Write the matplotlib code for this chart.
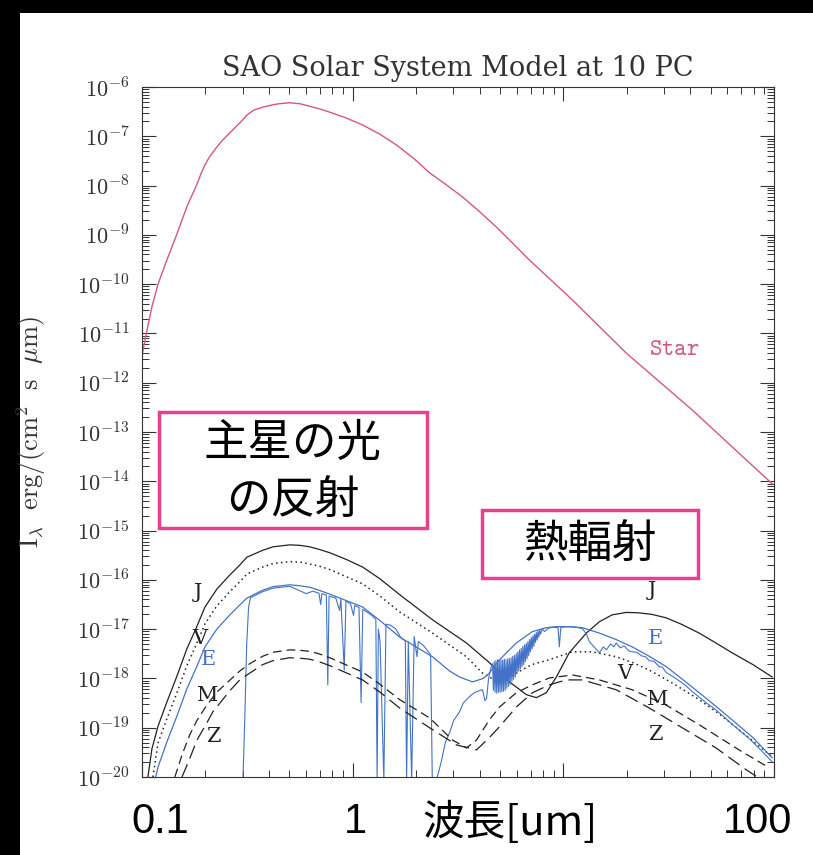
import numpy as np
import matplotlib.pyplot as plt
from matplotlib.patches import Rectangle
from matplotlib.ticker import LogLocator, NullFormatter, FuncFormatter

plt.rcParams['mathtext.fontset'] = 'cm'

# log10 wavelength [um] and log10 intensity
star_loglam = [-1.000, -0.976, -0.953, -0.924, -0.882, -0.834, -0.787, -0.739, -0.720, -0.701,
               -0.680, -0.645, -0.620, -0.583, -0.560, -0.536, -0.502, -0.470, -0.427, -0.379,
               -0.350, -0.299, -0.250, -0.204, -0.160, -0.109, -0.030, 0.047, 0.130, 0.209,
               0.290, 0.365, 0.440, 0.521, 0.600, 0.682, 0.760, 0.839, 1.043, 1.299,
               1.611, 1.991]
star_logI = [-11.45, -10.93, -10.46, -10.00, -9.51, -8.98, -8.43, -7.97, -7.76, -7.58,
             -7.42, -7.22, -7.09, -6.93, -6.83, -6.73, -6.57, -6.47, -6.41, -6.36,
             -6.34, -6.32, -6.34, -6.39, -6.44, -6.51, -6.63, -6.77, -6.96, -7.18,
             -7.45, -7.74, -7.97, -8.23, -8.52, -8.84, -9.17, -9.51, -10.32, -11.40,
             -12.55, -14.05]

j_loglam = [-0.972, -0.953, -0.924, -0.882, -0.834, -0.787, -0.739, -0.701, -0.645, -0.583,
            -0.536, -0.502, -0.427, -0.379, -0.299, -0.250, -0.204, -0.160, -0.109, -0.028,
            0.047, 0.130, 0.223, 0.379, 0.540, 0.649, 0.744, 0.825, 0.872, 0.919,
            0.967, 1.028, 1.109, 1.171, 1.232, 1.300, 1.360, 1.420, 1.488, 1.560,
            1.645, 1.720, 1.801, 1.900, 1.991]
j_logI = [-20.0, -19.43, -18.97, -18.48, -17.95, -17.40, -16.94, -16.55, -16.19, -15.90,
          -15.70, -15.54, -15.40, -15.33, -15.29, -15.30, -15.33, -15.38, -15.45, -15.59,
          -15.74, -15.98, -16.30, -16.81, -17.28, -17.68, -18.07, -18.33, -18.39, -18.29,
          -17.97, -17.48, -17.08, -16.85, -16.71, -16.66, -16.67, -16.70, -16.77, -16.90,
          -17.08, -17.27, -17.48, -17.72, -17.97]

v_loglam = [-0.948, -0.924, -0.882, -0.834, -0.787, -0.739, -0.701, -0.645, -0.583, -0.536,
            -0.502, -0.427, -0.379, -0.299, -0.250, -0.204, -0.160, -0.109, 0.047, 0.130,
            0.223, 0.379, 0.540, 0.616, 0.697, 0.777, 0.850, 0.934, 1.043, 1.137,
            1.251, 1.330, 1.408, 1.520, 1.645, 1.740, 1.834, 1.991]
v_logI = [-20.0, -19.31, -18.82, -18.29, -17.74, -17.28, -16.89, -16.53, -16.24, -16.04,
          -15.88, -15.74, -15.67, -15.63, -15.64, -15.68, -15.72, -15.79, -16.08, -16.33,
          -16.65, -17.08, -17.56, -17.89, -18.09, -17.89, -17.72, -17.62, -17.46, -17.46,
          -17.56, -17.68, -17.83, -18.10, -18.43, -18.72, -19.04, -19.59]

e_env_loglam = [-0.935, -0.924, -0.882, -0.834, -0.787, -0.739, -0.701, -0.645, -0.583, -0.536,
                -0.502, -0.427, -0.379, -0.299, -0.250, -0.204, -0.160, -0.109, 0.047, 0.128,
                0.223, 0.379, 0.460, 0.507, 0.569, 0.620, 0.649, 0.697, 0.777, 0.853,
                0.920, 0.967, 1.030, 1.090, 1.171, 1.250, 1.327, 1.408, 1.488, 1.560,
                1.645, 1.720, 1.801, 1.900, 1.991]
e_env_logI = [-20.0, -19.80, -19.29, -18.76, -18.21, -17.75, -17.36, -17.00, -16.71, -16.51,
              -16.37, -16.21, -16.14, -16.10, -16.12, -16.15, -16.21, -16.29, -16.55, -16.82,
              -17.16, -17.56, -17.85, -17.97, -18.07, -18.00, -17.89, -17.62, -17.28, -17.05,
              -16.97, -16.95, -16.95, -16.97, -17.08, -17.21, -17.36, -17.55, -17.76, -18.00,
              -18.29, -18.55, -18.84, -19.20, -19.61]

# Earth spectrum with its absorption bands, as (log10 lam, log10 I) pairs
e_spec = [(-0.521, -20.06), (-0.512, -18.80), (-0.503, -17.30), (-0.494, -16.55), (-0.485, -16.36),
          (-0.427, -16.24), (-0.379, -16.17), (-0.299, -16.13), (-0.251, -16.22), (-0.220, -16.28),
          (-0.190, -16.23), (-0.160, -16.27), (-0.152, -16.50), (-0.146, -16.28), (-0.125, -16.31),
          (-0.118, -18.13), (-0.112, -16.33), (-0.080, -16.37), (-0.062, -16.62), (-0.056, -16.39),
          (-0.040, -17.83), (-0.032, -16.43), (-0.010, -16.49), (0.004, -16.72), (0.010, -16.52),
          (0.030, -16.56), (0.040, -18.49), (0.048, -16.60), (0.070, -16.66), (0.090, -16.72),
          (0.110, -16.80), (0.116, -20.06), (0.122, -17.00), (0.130, -17.25), (0.148, -20.06),
          (0.158, -16.90), (0.180, -16.92), (0.205, -17.00), (0.230, -17.18), (0.250, -17.24),
          (0.256, -20.06), (0.264, -17.25), (0.280, -20.06), (0.292, -17.15), (0.305, -17.56),
          (0.312, -17.25), (0.340, -17.35), (0.370, -17.52), (0.378, -20.06), (0.398, -20.06),
          (0.420, -19.70), (0.440, -19.30), (0.460, -19.10), (0.480, -18.85), (0.507, -18.68),
          (0.525, -18.50), (0.540, -18.43), (0.560, -18.35), (0.578, -18.29), (0.600, -18.25),
          (0.616, -18.23), (0.628, -18.45), (0.636, -18.40), (0.645, -18.00), (0.658, -17.76),
          (0.664, -17.70), (0.668, -18.24), (0.672, -17.66), (0.676, -18.28), (0.680, -17.64),
          (0.684, -18.30), (0.688, -17.62), (0.692, -18.28), (0.696, -17.64), (0.700, -18.28),
          (0.704, -17.62), (0.708, -18.27), (0.712, -17.63), (0.716, -18.26), (0.720, -17.61),
          (0.724, -18.24), (0.728, -17.62), (0.732, -18.20), (0.736, -17.60), (0.740, -18.16),
          (0.744, -17.60), (0.748, -18.12), (0.752, -17.58), (0.756, -18.06), (0.760, -17.55),
          (0.764, -18.02), (0.768, -17.53), (0.772, -17.97), (0.776, -17.50), (0.780, -17.90),
          (0.784, -17.46), (0.788, -17.85), (0.792, -17.42), (0.796, -17.80), (0.800, -17.39),
          (0.804, -17.76), (0.808, -17.35), (0.812, -17.72), (0.816, -17.32), (0.820, -17.66),
          (0.824, -17.29), (0.828, -17.60), (0.832, -17.25), (0.836, -17.54), (0.840, -17.21),
          (0.844, -17.46), (0.848, -17.17), (0.852, -17.40), (0.856, -17.13), (0.860, -17.35),
          (0.864, -17.10), (0.868, -17.27), (0.872, -17.07), (0.876, -17.22), (0.880, -17.04),
          (0.884, -17.16), (0.888, -17.02), (0.892, -17.10), (0.900, -16.99), (0.910, -17.05),
          (0.930, -16.98), (0.950, -16.96), (0.975, -16.97), (0.981, -17.36), (0.988, -16.97),
          (1.010, -16.95), (1.060, -16.96), (1.090, -16.99), (1.110, -17.10), (1.123, -17.25),
          (1.150, -17.38), (1.171, -17.48), (1.190, -17.36), (1.204, -17.42), (1.225, -17.30),
          (1.240, -17.36), (1.251, -17.28), (1.270, -17.38), (1.289, -17.34), (1.310, -17.44),
          (1.327, -17.46), (1.350, -17.47), (1.370, -17.54), (1.390, -17.56), (1.408, -17.64),
          (1.430, -17.65), (1.455, -17.76), (1.470, -17.77), (1.488, -17.88), (1.520, -17.96),
          (1.550, -18.05), (1.580, -18.14), (1.610, -18.26), (1.645, -18.38), (1.680, -18.50),
          (1.716, -18.61), (1.760, -18.77), (1.801, -18.93), (1.840, -19.07), (1.882, -19.22),
          (1.930, -19.42), (1.991, -19.69)]

m_loglam = [-0.844, -0.810, -0.773, -0.739, -0.692, -0.645, -0.597, -0.536, -0.488, -0.427,
            -0.379, -0.299, -0.250, -0.204, -0.160, -0.109, 0.047, 0.130, 0.223, 0.365,
            0.474, 0.540, 0.588, 0.649, 0.697, 0.777, 0.853, 0.934, 1.043, 1.171,
            1.327, 1.488, 1.645, 1.834, 1.976]
m_logI = [-20.0, -19.55, -19.14, -18.85, -18.54, -18.28, -18.09, -17.85, -17.70, -17.55,
          -17.47, -17.42, -17.43, -17.45, -17.50, -17.58, -17.87, -18.12, -18.43, -18.80,
          -19.25, -19.41, -19.25, -18.84, -18.58, -18.29, -18.13, -17.99, -17.93, -18.03,
          -18.23, -18.54, -18.94, -19.45, -19.81]

z_loglam = [-0.810, -0.773, -0.739, -0.692, -0.664, -0.583, -0.536, -0.488, -0.427, -0.379,
            -0.299, -0.250, -0.204, -0.160, -0.109, 0.047, 0.130, 0.223, 0.365, 0.493,
            0.588, 0.649, 0.697, 0.777, 0.853, 0.934, 1.014, 1.090, 1.251, 1.408,
            1.564, 1.725, 1.867, 1.938]
z_logI = [-20.0, -19.62, -19.25, -18.90, -18.68, -18.25, -18.03, -17.89, -17.72, -17.64,
          -17.58, -17.59, -17.61, -17.66, -17.74, -18.03, -18.28, -18.60, -19.00, -19.35,
          -19.45, -19.20, -18.98, -18.58, -18.29, -18.13, -18.03, -18.03, -18.23, -18.60,
          -19.00, -19.41, -19.85, -20.05]

pink = '#d6587a'
blue = '#4373c6'
box_pink = '#e8408c'
ink = '#222222'

fig = plt.figure(figsize=(8.13, 8.55), dpi=100, facecolor='black')
# white sheet of the scanned figure
fig.patches.append(Rectangle((20 / 813, 0), 1, 1 - 13 / 855, transform=fig.transFigure,
                             facecolor='white', edgecolor='none', zorder=-10))

ax = fig.add_axes([142 / 813, 1 - 777 / 855, 632 / 813, 690 / 855])
ax.set_facecolor('white')


def p(loglam, logI):
    return 10 ** np.array(loglam), 10 ** np.array(logI)


e_spec_loglam, e_spec_logI = zip(*e_spec)

ax.plot(*p(star_loglam, star_logI), color=pink, lw=1.0)
ax.plot(*p(j_loglam, j_logI), color=ink, lw=0.9)
ax.plot(*p(v_loglam, v_logI), color=ink, lw=1.1, linestyle=(0, (1, 2.2)))
ax.plot(*p(e_env_loglam, e_env_logI), color=blue, lw=0.9)
ax.plot(*p(e_spec_loglam, e_spec_logI), color=blue, lw=0.8)
ax.plot(*p(m_loglam, m_logI), color=ink, lw=0.9, linestyle=(0, (7, 4)))
ax.plot(*p(z_loglam, z_logI), color=ink, lw=0.9, linestyle=(0, (11, 5)))

ax.set_xscale('log')
ax.set_yscale('log')
ax.set_xlim(0.1, 100)
ax.set_ylim(1e-20, 1e-6)
ax.yaxis.set_major_locator(LogLocator(base=10, numticks=30))
ax.yaxis.set_minor_locator(LogLocator(base=10, subs=np.arange(2, 10), numticks=30))
ax.yaxis.set_major_formatter(FuncFormatter(lambda v, pos: r'$10^{%d}$' % round(np.log10(v))))
ax.xaxis.set_minor_locator(LogLocator(base=10, subs=np.arange(2, 10), numticks=30))
ax.xaxis.set_major_formatter(NullFormatter())
ax.xaxis.set_minor_formatter(NullFormatter())
ax.tick_params(which='both', direction='in', top=True, right=True, color='#333333')
ax.tick_params(which='major', length=10, width=0.8, labelsize=16, pad=9, labelcolor='#333333')
ax.tick_params(which='minor', length=5, width=0.7)
for s in ax.spines.values():
    s.set_color('#333333')
    s.set_linewidth(0.8)

ax.set_ylabel(r'$\mathrm{I_\lambda\ \ erg/(cm^2\ \ s\ \ \mu m)}$', fontsize=19, color='#333333')
ax.yaxis.set_label_coords(-0.148, 0.5)

fig.text(458 / 813, 1 - 68 / 855, 'SAO Solar System Model at 10 PC', ha='center', va='center',
         fontsize=19.5, family='DejaVu Serif', color='#333333')

# curve labels
lab = dict(transform=ax.transAxes, ha='center', va='center', fontsize=15, family='DejaVu Serif',
           color=ink)
ax.text(0.0886, 0.268, 'J', **lab)
ax.text(0.0918, 0.2014, 'V', **lab)
ax.text(0.1044, 0.1696, 'E', **{**lab, 'color': blue})
ax.text(0.1044, 0.1188, 'M', **lab)
ax.text(0.1123, 0.058, 'Z', **lab)
ax.text(0.807, 0.271, 'J', **lab)
ax.text(0.8117, 0.2014, 'E', **{**lab, 'color': blue})
ax.text(0.764, 0.1507, 'V', **lab)
ax.text(0.8165, 0.1116, 'M', **lab)
ax.text(0.8117, 0.0609, 'Z', **lab)
ax.text(0.8418, 0.6217, r'$\mathtt{Star}$', transform=ax.transAxes, ha='center', va='center',
        fontsize=17, color=pink)

# annotation boxes
jp = ['Noto Sans CJK JP', 'DejaVu Sans']
fig.patches.append(Rectangle((159 / 813, 1 - 528 / 855), 268 / 813, 116 / 855, transform=fig.transFigure,
                             facecolor='white', edgecolor=box_pink, lw=2.5, zorder=5))
fig.text(293 / 813, 1 - 443 / 855, '主星の光', ha='center', va='center', fontsize=32, family=jp, zorder=6)
fig.text(293 / 813, 1 - 500 / 855, 'の反射', ha='center', va='center', fontsize=32, family=jp, zorder=6)
fig.patches.append(Rectangle((482 / 813, 1 - 578 / 855), 216 / 813, 68 / 855, transform=fig.transFigure,
                             facecolor='white', edgecolor=box_pink, lw=2.5, zorder=5))
fig.text(590 / 813, 1 - 545 / 855, '熱輻射', ha='center', va='center', fontsize=32, family=jp, zorder=6)

# big axis labels at the bottom
big = dict(ha='center', va='center', fontsize=30, family=['Liberation Sans', 'DejaVu Sans'])
fig.text(160 / 813, 1 - 822 / 855, '0.1', **big)
fig.text(355 / 813, 1 - 822 / 855, '1', **big)
fig.text(510 / 813, 1 - 822 / 855, '波長[um]', ha='center', va='center', fontsize=30,
         family=['Noto Sans CJK JP', 'DejaVu Sans'])
fig.text(758 / 813, 1 - 822 / 855, '100', **big)

fig.savefig('out.png', dpi=100, facecolor='black')
